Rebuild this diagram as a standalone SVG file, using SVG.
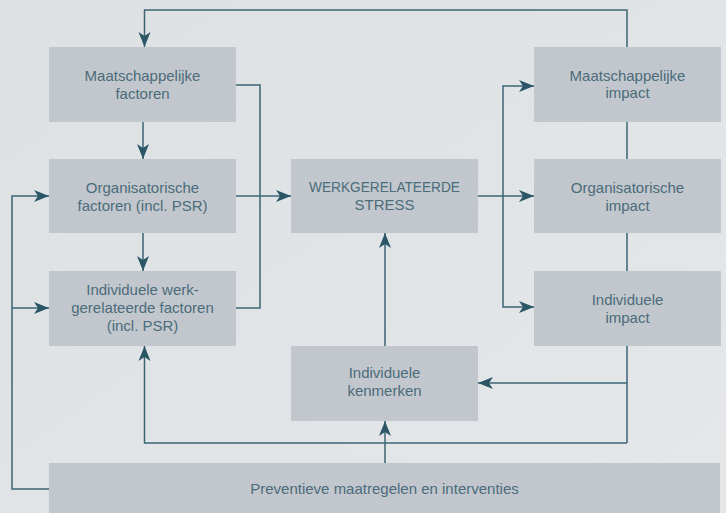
<svg xmlns="http://www.w3.org/2000/svg" width="726" height="513" viewBox="0 0 726 513">
<defs>
<linearGradient id="bg" x1="0" y1="0" x2="1" y2="1">
<stop offset="0" stop-color="#dde1e4"/>
<stop offset="1" stop-color="#e5e7e9"/>
</linearGradient>
<marker id="ah" markerUnits="userSpaceOnUse" markerWidth="16" markerHeight="14" viewBox="-16 -7 16 14" refX="0" refY="0" orient="auto">
<path d="M0,0 L-15,-6 L-11,0 L-15,6 Z" fill="#2a5666"/>
</marker>
</defs>
<style>
.box{fill:#c2c7cd}
.t{font-family:"Liberation Sans",Arial,sans-serif;font-size:15px;fill:#4b6c7a;text-anchor:middle}
.c{fill:none;stroke:#3b6474;stroke-width:1.5}
.a{marker-end:url(#ah)}
</style>
<rect width="726" height="513" fill="url(#bg)"/>
<g id="connectors">
<path class="c a" d="M627,443 V10 H144.5 V47"/>
<path class="c a" d="M627,443 H144.5 V346"/>
<path class="c a" d="M627,383 H478"/>
<path class="c a" d="M143,121.5 V159"/>
<path class="c a" d="M143,233 V271"/>
<path class="c" d="M236,85 H260 V308 H236"/>
<path class="c a" d="M236,196 H291"/>
<path class="c a" d="M478,196 H534"/>
<path class="c a" d="M503,196 V86 H534"/>
<path class="c a" d="M503,196 V307 H534"/>
<path class="c a" d="M385,463 V421"/>
<path class="c a" d="M385,346 V233"/>
<path class="c a" d="M49,489 H12 V196 H49"/>
<path class="c a" d="M12,308 H49"/>
</g>
<g id="maatschappelijke-factoren">
<rect class="box" x="49" y="47" width="187" height="75"/>
<text class="t" x="142.5" y="80.5">Maatschappelijke</text>
<text class="t" x="142.5" y="98.5">factoren</text>
</g>
<g id="organisatorische-factoren">
<rect class="box" x="49" y="159" width="187" height="74"/>
<text class="t" x="142.5" y="192.5">Organisatorische</text>
<text class="t" x="142.5" y="210.5">factoren (incl. PSR)</text>
</g>
<g id="individuele-factoren">
<rect class="box" x="49" y="271" width="187" height="75"/>
<text class="t" x="142.5" y="295">Individuele werk-</text>
<text class="t" x="142.5" y="313">gerelateerde factoren</text>
<text class="t" x="142.5" y="331">(incl. PSR)</text>
</g>
<g id="werkgerelateerde-stress">
<rect class="box" x="291" y="159" width="187" height="74"/>
<text class="t" x="384.5" y="192" textLength="151" lengthAdjust="spacingAndGlyphs">WERKGERELATEERDE</text>
<text class="t" x="384.5" y="210">STRESS</text>
</g>
<g id="individuele-kenmerken">
<rect class="box" x="291" y="346" width="187" height="75"/>
<text class="t" x="384.5" y="378">Individuele</text>
<text class="t" x="384.5" y="396">kenmerken</text>
</g>
<g id="maatschappelijke-impact">
<rect class="box" x="534" y="47" width="187" height="75"/>
<text class="t" x="627.5" y="80.5">Maatschappelijke</text>
<text class="t" x="627.5" y="98">impact</text>
</g>
<g id="organisatorische-impact">
<rect class="box" x="534" y="159" width="187" height="74"/>
<text class="t" x="627.5" y="192.5">Organisatorische</text>
<text class="t" x="627.5" y="210.5">impact</text>
</g>
<g id="individuele-impact">
<rect class="box" x="534" y="271" width="187" height="75"/>
<text class="t" x="627.5" y="304.5">Individuele</text>
<text class="t" x="627.5" y="322.5">impact</text>
</g>
<g id="preventieve-maatregelen">
<rect class="box" x="49" y="463" width="671" height="50"/>
<text class="t" x="384.5" y="493.5">Preventieve maatregelen en interventies</text>
</g>
</svg>
